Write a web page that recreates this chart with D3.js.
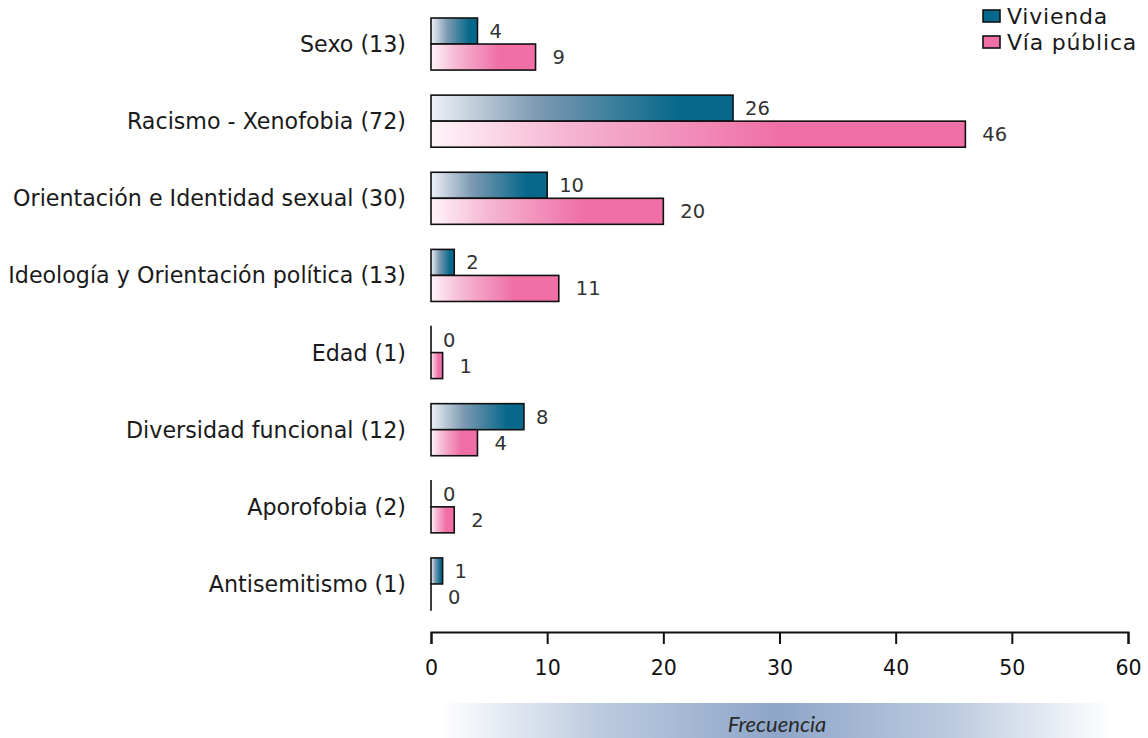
<!DOCTYPE html>
<html>
<head>
<meta charset="utf-8">
<script src="https://cdn.jsdelivr.net/npm/d3@7"></script>
<style>
  html, body { margin: 0; padding: 0; background: #ffffff; }
  svg { display: block; }
  text { font-family: "DejaVu Sans", sans-serif; }
</style>
</head>
<body>
<svg id="chart" width="1148" height="738"></svg>
<script>
const categories = [
  "Sexo (13)",
  "Racismo - Xenofobia (72)",
  "Orientación e Identidad sexual (30)",
  "Ideología y Orientación política (13)",
  "Edad (1)",
  "Diversidad funcional (12)",
  "Aporofobia (2)",
  "Antisemitismo (1)"
];
const seriesNames = ["Vivienda", "Vía pública"];
const vivienda = [4, 26, 10, 2, 0, 8, 0, 1];
const viaPublica = [9, 46, 20, 11, 1, 4, 2, 0];
const tickValues = [0, 10, 20, 30, 40, 50, 60];
const axisTitle = "Frecuencia";

const seriesColors = ["#07688b", "#ef6fa6"];
const seriesLight = ["#eef0f6", "#fff4f9"];

const svg = d3.select("#chart");
const defs = svg.append("defs");

// bar gradients
const gV = defs.append("linearGradient").attr("id", "grad0")
  .attr("x1", "0%").attr("x2", "100%").attr("y1", "0%").attr("y2", "0%");
gV.append("stop").attr("offset", "0%").attr("stop-color", seriesLight[0]);
gV.append("stop").attr("offset", "35%").attr("stop-color", "#7d9ab2");
gV.append("stop").attr("offset", "82%").attr("stop-color", seriesColors[0]);
gV.append("stop").attr("offset", "100%").attr("stop-color", seriesColors[0]);

const gP = defs.append("linearGradient").attr("id", "grad1")
  .attr("x1", "0%").attr("x2", "100%").attr("y1", "0%").attr("y2", "0%");
gP.append("stop").attr("offset", "0%").attr("stop-color", seriesLight[1]);
gP.append("stop").attr("offset", "25%").attr("stop-color", "#f5b6d2");
gP.append("stop").attr("offset", "65%").attr("stop-color", seriesColors[1]);
gP.append("stop").attr("offset", "100%").attr("stop-color", seriesColors[1]);

// axis title band gradient
const gA = defs.append("linearGradient").attr("id", "gradAxis")
  .attr("x1", "0%").attr("x2", "100%").attr("y1", "0%").attr("y2", "0%");
gA.append("stop").attr("offset", "0%").attr("stop-color", "#ffffff");
gA.append("stop").attr("offset", "25%").attr("stop-color", "#b9c8de");
gA.append("stop").attr("offset", "50%").attr("stop-color", "#8ea6c8");
gA.append("stop").attr("offset", "75%").attr("stop-color", "#b9c8de");
gA.append("stop").attr("offset", "100%").attr("stop-color", "#ffffff");

const x = d3.scaleLinear().domain([0, 60]).range([431, 1128]);
const y = d3.scaleBand().domain(categories).range([18, 610]).paddingInner(0.325).paddingOuter(0);
const ySub = d3.scaleBand().domain(seriesNames).range([0, y.bandwidth()]);

const data = categories.map((c, i) => ({ cat: c, values: [vivienda[i], viaPublica[i]] }));

// category labels
svg.append("g").selectAll("text").data(categories).join("text")
  .attr("x", 406)
  .attr("y", d => y(d) + y.bandwidth() / 2)
  .attr("dy", "0.36em")
  .attr("text-anchor", "end")
  .attr("font-size", 22.2)
  .attr("fill", "#1a1a1a")
  .text(d => d);

// bars
const groups = svg.append("g").selectAll("g").data(data).join("g")
  .attr("transform", d => `translate(0,${y(d.cat)})`);

groups.selectAll("rect").data(d => d.values.map((v, k) => ({ v, k }))).join("rect")
  .attr("x", x(0))
  .attr("y", d => ySub(seriesNames[d.k]))
  .attr("width", d => Math.max(x(d.v) - x(0), 0.01))
  .attr("height", ySub.bandwidth())
  .attr("fill", d => `url(#grad${d.k})`)
  .attr("stroke", "#111")
  .attr("stroke-width", 1.6);

groups.selectAll("text").data(d => d.values.map((v, k) => ({ v, k }))).join("text")
  .attr("x", d => x(d.v) + (d.k === 0 ? 12 : 17))
  .attr("y", d => ySub(seriesNames[d.k]) + ySub.bandwidth() / 2)
  .attr("dy", "0.36em")
  .attr("font-size", 19.5)
  .attr("fill", "#333")
  .text(d => d.v);

// x axis
const axis = svg.append("g")
  .attr("transform", "translate(0,632)")
  .call(d3.axisBottom(x).tickValues(tickValues).tickSize(12).tickSizeOuter(12).tickPadding(16));
axis.select(".domain").attr("stroke", "#111").attr("stroke-width", 2);
axis.selectAll(".tick line").attr("stroke", "#111").attr("stroke-width", 2);
axis.selectAll(".tick text").attr("font-size", 20.5).attr("fill", "#111")
  .style("font-family", "'DejaVu Sans', sans-serif");

// axis title band
svg.append("rect")
  .attr("x", 440).attr("y", 703).attr("width", 672).attr("height", 35)
  .attr("fill", "url(#gradAxis)");
svg.append("text")
  .attr("x", 777).attr("y", 724)
  .attr("dy", "0.35em")
  .attr("text-anchor", "middle")
  .attr("font-size", 22)
  .attr("font-style", "italic")
  .attr("fill", "#2a2a2a")
  .style("font-family", "Lato, sans-serif")
  .text(axisTitle);

// legend
const legend = svg.append("g").attr("transform", "translate(983,10)");
const li = legend.selectAll("g").data(seriesNames).join("g")
  .attr("transform", (d, i) => `translate(0,${i * 26})`);
li.append("rect")
  .attr("width", 17).attr("height", 12)
  .attr("fill", (d, i) => seriesColors[i])
  .attr("stroke", "#111").attr("stroke-width", 1.6);
li.append("text")
  .attr("x", 24).attr("y", 6).attr("dy", "0.36em")
  .attr("font-size", 22)
  .attr("letter-spacing", 0.8)
  .attr("fill", "#1a1a1a")
  .text(d => d);
</script>
</body>
</html>
